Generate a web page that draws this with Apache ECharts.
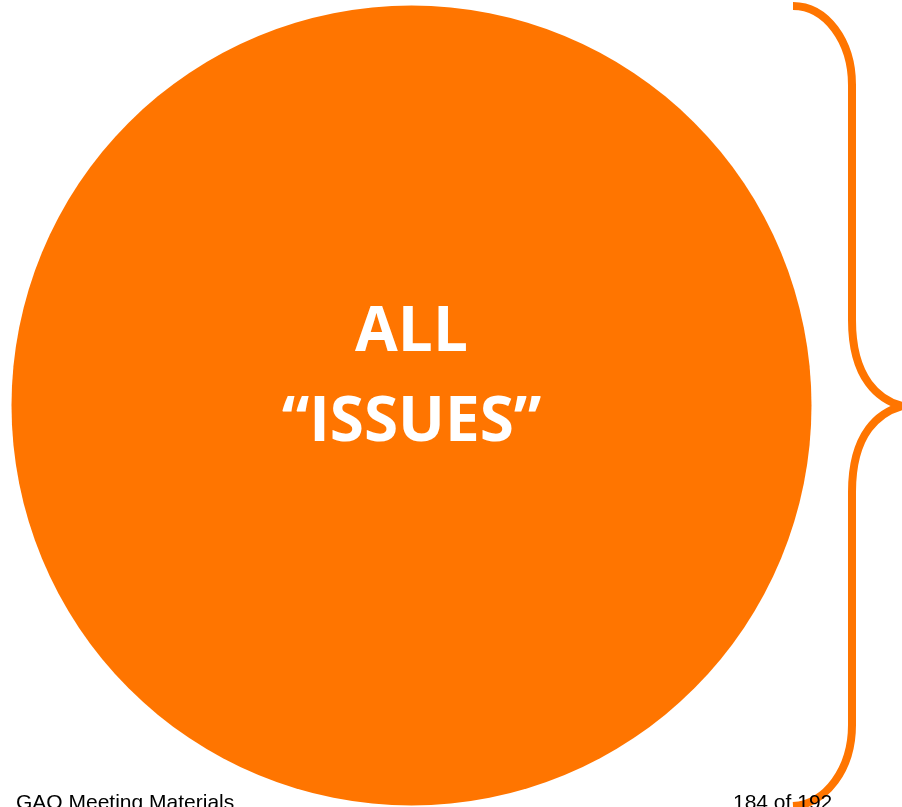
<!DOCTYPE html>
<html>
<head>
<meta charset="utf-8">
<script src="https://cdn.jsdelivr.net/npm/echarts@6/dist/echarts.min.js"></script>
<style>
  html, body { margin: 0; padding: 0; background: #fff; }
  #chart { width: 902px; height: 807px; }
</style>
</head>
<body>
<div id="chart"></div>
<script>
// one slice: the whole set of issues
const sliceNames = ['ALL “ISSUES”'];
const sliceValues = [1];
const labelLines = ['ALL', '“ISSUES”'];
const footerLeft = 'GAO Meeting Materials';
const footerRight = '184 of 192';

const ORANGE = '#ff7500';

const chart = echarts.init(document.getElementById('chart'), null, { renderer: 'canvas' });

// curly brace on the right, built from curves and straight runs
const braceStyle = { fill: null, stroke: ORANGE, lineWidth: 8 };
const braceCurves = [
  [793, 6, 852, 85, 826, 6, 852, 41],
  [852, 320, 902, 406, 852, 380, 880, 400],
  [902, 406, 852, 492, 880, 412, 852, 432],
  [852, 725, 793, 806, 852, 769, 826, 804]
];
const braceLines = [
  [852, 84, 852, 321],
  [852, 491, 852, 726]
];

const braceGraphics = braceCurves.map((c) => ({
  type: 'bezierCurve',
  silent: true,
  shape: { x1: c[0], y1: c[1], x2: c[2], y2: c[3], cpx1: c[4], cpy1: c[5], cpx2: c[6], cpy2: c[7] },
  style: braceStyle
})).concat(braceLines.map((l) => ({
  type: 'line',
  silent: true,
  shape: { x1: l[0], y1: l[1], x2: l[2], y2: l[3] },
  style: braceStyle
})));

const bigText = {
  color: '#fff',
  fontFamily: 'Open Sans',
  fontWeight: 'bold',
  fontSize: 62,
  lineHeight: 90
};

chart.setOption({
  animation: false,
  backgroundColor: '#fff',
  series: [{
    type: 'pie',
    silent: true,
    center: [411.5, 405.5],
    radius: [0, 400],
    startAngle: 90,
    itemStyle: { color: ORANGE },
    label: {
      show: true,
      position: 'center',
      // trailing short spacer line lifts the two text lines to match the slide
      formatter: labelLines.map((t) => '{t|' + t + '}').join('\n') + '\n{g| }',
      rich: {
        t: bigText,
        g: { fontSize: 10, lineHeight: 54 }
      }
    },
    labelLine: { show: false },
    emphasis: { disabled: true },
    data: sliceNames.map((name, i) => ({ name, value: sliceValues[i] }))
  }],
  graphic: braceGraphics.concat([
    {
      type: 'text',
      left: 16,
      top: 793,
      style: {
        text: footerLeft,
        font: '21px "Liberation Sans", Arial, sans-serif',
        fill: '#000'
      }
    },
    {
      type: 'text',
      left: 733,
      top: 793,
      style: {
        text: footerRight,
        font: '21px "Liberation Sans", Arial, sans-serif',
        fill: '#000'
      }
    }
  ])
});
</script>
</body>
</html>
